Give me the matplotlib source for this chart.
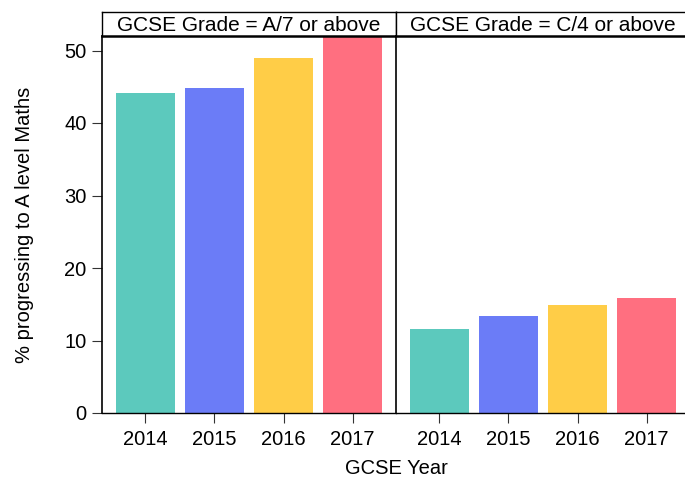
import matplotlib
matplotlib.use("Agg")
import matplotlib.pyplot as plt

plt.rcParams['font.family'] = ['Liberation Sans', 'DejaVu Sans']

years = ["2014", "2015", "2016", "2017"]
panel_titles = ["GCSE Grade = A/7 or above", "GCSE Grade = C/4 or above"]
pct_a7 = [44.2, 44.8, 49.0, 52.5]
pct_c4 = [11.6, 13.4, 14.9, 15.8]
colors = ["#5cc9bd", "#6b7cf7", "#ffcd47", "#ff6f80"]
yticks = [0, 10, 20, 30, 40, 50]

fig = plt.figure(figsize=(6.85, 4.83), dpi=100)
W, H = 685, 483
left, top, bottom, pw = 102, 36, 413, 294
strip_h = 24
fs = 14.5

axes = []
for i, (title, vals) in enumerate(zip(panel_titles, [pct_a7, pct_c4])):
    x0 = left + i * pw
    ax = fig.add_axes([x0 / W, 1 - bottom / H, pw / W, (bottom - top) / H])
    ax.bar(range(len(years)), vals, width=0.86, color=colors)
    ax.set_xlim(-0.63, 3.63)
    ax.set_ylim(0, 52)
    ax.set_xticks(range(len(years)))
    ax.set_xticklabels(years, fontsize=fs)
    ax.set_yticks(yticks)
    ax.tick_params(axis='both', direction='out', length=7, width=0.8,
                   labelsize=fs, color='#333333')
    ax.tick_params(axis='x', pad=5)
    ax.tick_params(axis='y', pad=4)
    for s in ['top', 'right']:
        ax.spines[s].set_visible(False)
    ax.spines['left'].set_linewidth(1.2)
    ax.spines['bottom'].set_linewidth(1.0)
    if i > 0:
        ax.tick_params(axis='y', left=False, labelleft=False)
    # title strip
    sax = fig.add_axes([x0 / W, 1 - top / H, pw / W, strip_h / H])
    sax.set_xticks([])
    sax.set_yticks([])
    for s in sax.spines.values():
        s.set_linewidth(1.0)
    sax.spines['bottom'].set_linewidth(1.8)
    sax.text(0.5, 0.45, title, ha='center', va='center', fontsize=15,
             transform=sax.transAxes)
    axes.append(ax)

fig.text(25 / W, 1 - (top + bottom) / 2 / H, "% progressing to A level Maths",
         rotation=90, ha='center', va='center', fontsize=fs)
fig.text((left + pw) / W, 1 - 468 / H, "GCSE Year", ha='center', va='center',
         fontsize=fs)

fig.savefig("out.png", dpi=100)
